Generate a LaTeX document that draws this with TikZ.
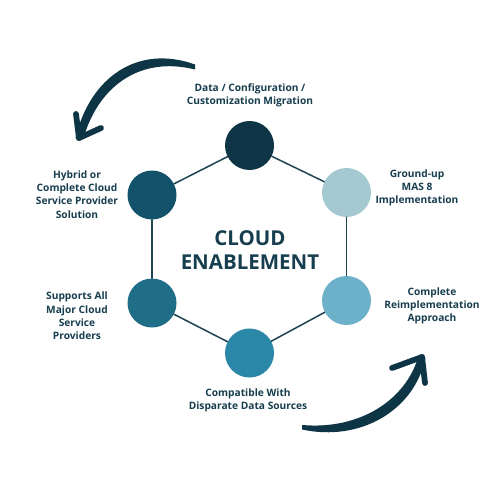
\documentclass[tikz,border=0pt]{standalone}
\usepackage{fontspec}
\setmainfont{Open Sans}
\usetikzlibrary{positioning}
\definecolor{qqdark}{HTML}{0E3545}
\definecolor{qqtext}{HTML}{173E4E}
\definecolor{qqline}{HTML}{1E4452}
\definecolor{ccone}{HTML}{0E3545}
\definecolor{cctwo}{HTML}{A5C9D1}
\definecolor{ccthree}{HTML}{6DB0C9}
\definecolor{ccfour}{HTML}{2A87A7}
\definecolor{ccfive}{HTML}{1F6D87}
\definecolor{ccsix}{HTML}{12536B}
\begin{document}
\begin{tikzpicture}[line cap=round,line join=round,x=1pt,y=-1pt,
    dot/.style={circle,minimum size=49pt,inner sep=0pt},
    lbl/.style={align=center,font=\fontsize{10.2}{13.3}\selectfont\bfseries,text=qqtext},
    rim/.style={line width=1.5pt,color=qqline},
    barb/.style={line width=5.8pt,color=qqdark}]
        \useasboundingbox[fill=white] (0,0) rectangle (500,500);
        % ring of circles
        \node [dot,fill=ccone] (data) at (249.5,145.5) {};
        \node [dot,fill=cctwo] (ground) at (346.5,192.5) {};
        \node [dot,fill=ccthree] (reimpl) at (346.5,300.5) {};
        \node [dot,fill=ccfour] (compat) at (249.5,353) {};
        \node [dot,fill=ccfive] (supports) at (152,303) {};
        \node [dot,fill=ccsix] (hybrid) at (152,195) {};
        \draw [rim] (data) -- (ground);
        \draw [rim] (ground) -- (reimpl);
        \draw [rim] (reimpl) -- (compat);
        \draw [rim] (compat) -- (supports);
        \draw [rim] (supports) -- (hybrid);
        \draw [rim] (hybrid) -- (data);
        % centre title
        \node [align=center,text=qqtext,font=\fontsize{20.5}{24}\selectfont\bfseries] (title) at (250,250) {CLOUD\\ENABLEMENT};
        % labels
        \node [lbl] (datalbl) at (250,95) {Data / Configuration /\\Customization Migration};
        \node [lbl] (groundlbl) at (417,188) {Ground-up\\MAS 8\\Implementation};
        \node [lbl] (reimpllbl) at (432,306) {Complete\\Reimplementation\\Approach};
        \node [lbl] (compatlbl) at (248,400.5) {Compatible With\\Disparate Data Sources};
        \node [lbl] (supportslbl) at (77,316) {Supports All\\Major Cloud\\Service\\Providers};
        \node [lbl] (hybridlbl) at (77,194.5) {Hybrid or\\Complete Cloud\\Service Provider\\Solution};
        % brush arrows
        \coordinate (tipa) at (79,138);
        \coordinate (tipb) at (422,357);
        \fill [qqdark] (195,64.5) .. controls (138,44) and (90,77) .. (75.5,138)
            -- (83.5,138) .. controls (99,85) and (141,56) .. (195,69.5) -- cycle;
        \draw [barb] (tipa) -- (76,114);
        \draw [barb] (tipa) -- (101,128);
        \fill [qqdark] (302,425) .. controls (360,430) and (406,400) .. (418.5,356)
            -- (425.5,358) .. controls (414,411) and (360,442) .. (302,429.5) -- cycle;
        \draw [barb] (tipb) -- (392,368);
        \draw [barb] (tipb) -- (425,383);
\end{tikzpicture}
\end{document}
